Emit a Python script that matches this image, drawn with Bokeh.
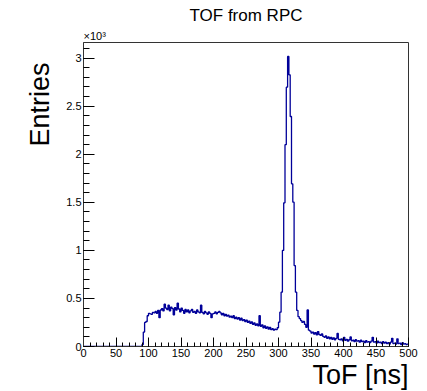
from bokeh.plotting import figure
from bokeh.models import FixedTicker, Title
from bokeh.embed import file_html
from bokeh.resources import INLINE

# ---- data ----
bin_width = 2.0          # ns per bin
x_start = 0.0            # first bin edge
counts = [
    # 0 - 88 ns
    0, 0, 0, 0, 0, 0, 0, 0, 0, 0,
    0, 0, 0, 0, 0, 0, 0, 0, 0, 0,
    0, 0, 0, 0, 0, 0, 0, 0, 0, 0,
    0, 0, 0, 0, 0, 0, 0, 0, 0, 0,
    0, 0, 0, 0, 0,
    # 90 - 148 ns
    20, 150, 250, 260, 320, 345, 340, 335, 355, 350,
    365, 345, 375, 300, 380, 395, 370, 440, 400, 385,
    430, 370, 410, 395, 330, 405, 380, 450, 390, 360,
    # 150 - 208 ns
    400, 375, 345, 385, 360, 380, 350, 370, 385, 355,
    365, 345, 380, 360, 350, 430, 355, 340, 365, 350,
    335, 360, 345, 300, 340, 345, 360, 340, 355, 365,
    # 210 - 268 ns
    350, 330, 345, 320, 335, 315, 325, 305, 315, 300,
    320, 290, 305, 285, 300, 275, 295, 270, 280, 260,
    275, 250, 265, 240, 255, 230, 245, 220, 235, 215,
    # 270 - 328 ns
    320, 210, 225, 195, 215, 190, 205, 180, 200, 175,
    185, 170, 180, 175, 195, 253, 357, 565, 1000, 1495,
    2100, 2698, 3018, 2827, 2393, 1693, 1502, 842, 565, 375,
    # 330 - 388 ns
    310, 290, 270, 250, 260, 230, 200, 380, 170, 160,
    140, 150, 130, 145, 120, 155, 125, 115, 130, 105,
    95, 110, 85, 100, 80, 95, 75, 90, 70, 85,
    # 390 - 448 ns
    135, 75, 70, 80, 60, 95, 65, 75, 55, 70,
    100, 60, 65, 50, 70, 55, 60, 45, 65, 50,
    55, 40, 60, 45, 50, 40, 55, 95, 45, 50,
    # 450 - 498 ns
    35, 55, 40, 45, 30, 50, 35, 45, 30, 40,
    25, 45, 85, 30, 35, 25, 80, 30, 35, 20,
    40, 25, 30, 20, 25,
]

title_text = "TOF from RPC"
x_label = "ToF [ns]"
y_label = "Entries"
y_exponent = "\u00d710\u00b3"

x_major = [0, 50, 100, 150, 200, 250, 300, 350, 400, 450, 500]
x_minor = list(range(0, 501, 10))
y_major = [0, 500, 1000, 1500, 2000, 2500, 3000]
y_major_labels = ["0", "0.5", "1", "1.5", "2", "2.5", "3"]
y_minor = list(range(0, 3101, 100))

x_lo, x_hi = 0, 500
y_lo, y_hi = 0, 3163

FONT = "Liberation Sans"
LINE_COLOR = "#000099"
FRAME_COLOR = "#333333"

# ---- figure ----
p = figure(width=427, height=391, x_range=(x_lo, x_hi), y_range=(y_lo, y_hi),
           output_backend="svg", toolbar_location=None, title=None,
           min_border_left=83, min_border_right=19,
           min_border_top=42, min_border_bottom=45)
p.background_fill_color = "white"
p.border_fill_color = "white"
p.outline_line_color = FRAME_COLOR
p.outline_line_width = 1
p.xgrid.visible = False
p.ygrid.visible = False

edges = [x_start + i * bin_width for i in range(len(counts) + 1)]
ys = counts + [counts[-1]]
p.step(edges, ys, mode="after", line_color=LINE_COLOR, line_width=1.3)

# x axis
xa = p.xaxis[0]
xa.ticker = FixedTicker(ticks=x_major, minor_ticks=x_minor)
xa.major_tick_in = 9
xa.major_tick_out = 0
xa.minor_tick_in = 4
xa.minor_tick_out = 0
xa.major_label_standoff = 2
xa.major_label_text_font = FONT
xa.major_label_text_font_size = "11px"
xa.major_label_text_color = "black"
xa.axis_line_color = FRAME_COLOR
xa.major_tick_line_color = "black"
xa.minor_tick_line_color = "black"

# y axis
ya = p.yaxis[0]
ya.ticker = FixedTicker(ticks=y_major, minor_ticks=y_minor)
ya.major_label_overrides = {v: s for v, s in zip(y_major, y_major_labels)}
ya.major_tick_in = 11
ya.major_tick_out = 0
ya.minor_tick_in = 6
ya.minor_tick_out = 0
ya.major_label_standoff = 2
ya.major_label_text_font = FONT
ya.major_label_text_font_size = "11px"
ya.major_label_text_color = "black"
ya.axis_line_color = FRAME_COLOR
ya.major_tick_line_color = "black"
ya.minor_tick_line_color = "black"

# texts as titles placed around the frame
p.add_layout(Title(text=y_exponent, align="left", vertical_align="bottom",
                   standoff=1, text_font=FONT, text_font_size="11px",
                   text_font_style="normal", text_color="black"), "above")
p.add_layout(Title(text=title_text, align="center", vertical_align="bottom",
                   standoff=6, text_font=FONT, text_font_size="17px",
                   text_font_style="normal", text_color="black"), "above")
p.add_layout(Title(text=x_label, align="right", vertical_align="top",
                   standoff=0, text_font=FONT, text_font_size="27px",
                   text_font_style="normal", text_color="black"), "below")
p.add_layout(Title(text=y_label, align="right", vertical_align="bottom",
                   standoff=18, offset=20, text_font=FONT, text_font_size="27px",
                   text_font_style="normal", text_color="black"), "left")

open("out.html", "w").write(file_html(p, INLINE))
